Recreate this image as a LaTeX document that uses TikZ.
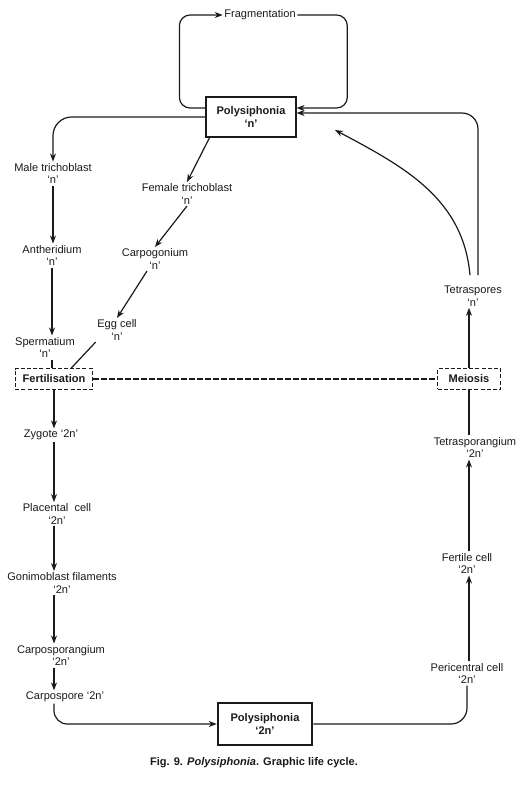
\documentclass[tikz,border=0pt]{standalone}
\usepackage{fontspec}
\setmainfont{Liberation Sans}
\usepackage{tikz}
\usetikzlibrary{arrows.meta,positioning,calc}
\definecolor{inkdark}{HTML}{1A1A1A}

\begin{document}
\begin{tikzpicture}[x=0.75pt, y=0.75pt,
  lbl/.style={align=center, inner sep=1pt, text=inkdark,
              font=\fontsize{8.3}{9.6}\selectfont},
  solidbox/.style={draw=inkdark, line width=1.4pt, align=center, text=inkdark,
              minimum width=67pt, minimum height=30pt,
              font=\fontsize{8.3}{9.6}\selectfont\bfseries},
  dashbox/.style={draw=inkdark, line width=1pt, dash pattern=on 3pt off 1.6pt,
              minimum height=15.5pt, text=inkdark,
              font=\fontsize{8.3}{9.6}\selectfont\bfseries},
  arr/.style={-{Stealth[length=6pt,width=4.5pt]}, line width=0.9pt, color=inkdark},
  ln/.style={line width=0.9pt, color=inkdark}]
\useasboundingbox (0,0) rectangle (521,-786);
% haploid plant and its sexual branch
\node[solidbox] (polyn) at (251,-117) {Polysiphonia\\`n'};
\node[lbl] (frag) at (260,-15) {Fragmentation};
\node[lbl] (male) at (53,-173.5) {Male trichoblast\\`n'};
\node[lbl] (anth) at (52,-255.5) {Antheridium\\`n'};
\node[lbl] (sperm) at (45,-347.5) {Spermatium\\`n'};
\node[lbl] (female) at (187,-194) {Female trichoblast\\`n'};
\node[lbl] (carpog) at (155,-259) {Carpogonium\\`n'};
\node[lbl] (egg) at (117,-330) {Egg cell\\`n'};
\node[dashbox, minimum width=58pt] (fert) at (54,-379) {Fertilisation};
% diploid carposporophyte
\node[lbl] (zyg) at (51,-435) {Zygote `2n'};
\node[lbl] (plac) at (57,-514) {Placental\ \ cell\\`2n'};
\node[lbl] (gon) at (62,-583) {Gonimoblast filaments\\`2n'};
\node[lbl] (csporang) at (61,-655.5) {Carposporangium\\`2n'};
\node[lbl] (cspore) at (65,-697) {Carpospore `2n'};
% diploid tetrasporophyte
\node[solidbox, minimum width=71pt, minimum height=31.5pt] (poly2) at (265,-724) {Polysiphonia\\`2n'};
\node[lbl] (peri) at (467,-673.5) {Pericentral cell\\`2n'};
\node[lbl] (fertile) at (467,-563.5) {Fertile cell\\`2n'};
\node[lbl] (tetrang) at (475,-447.5) {Tetrasporangium\\`2n'};
\node[dashbox, minimum width=47pt] (meio) at (469,-379) {Meiosis};
\node[lbl] (tetsp) at (473,-296) {Tetraspores\\`n'};
\coordinate (tip) at (335,-130);
\node[lbl, font=\fontsize{8.3}{9.6}\selectfont\bfseries] (cap) at (254,-763)
  {Fig. 9. \textit{Polysiphonia}. Graphic life cycle.};

% fragmentation loop
\draw[arr, rounded corners=8pt] ([yshift=6.75pt]polyn.west) -- ++(-26,0) |- (frag.west);
\draw[arr, rounded corners=8pt] (frag.east) -- ++(50,0) |- ([yshift=6.75pt]polyn.east);
% sexual branch
\draw[arr, rounded corners=14pt] (polyn.west) -| (male.north);
\draw[arr] (male.south) -- (male.south |- anth.north);
\draw[arr] (anth.south) -- (anth.south |- sperm.north);
\draw[ln] (anth.south |- sperm.south) -- (anth.south |- fert.north);
\draw[arr] ([xshift=3pt]polyn.south west) -- (female.north);
\draw[arr] (female.south) -- (carpog.north);
\draw[arr] ([xshift=-6pt]carpog.south) -- (egg.north);
\draw[ln] (egg.south west) -- ([xshift=13pt]fert.north);
\draw[ln, dash pattern=on 4pt off 2pt] (fert.east) -- (meio.west);
% carposporophyte
\draw[arr] (fert.south) -- (fert.south |- zyg.north);
\draw[arr] (zyg.south -| fert.south) -- (fert.south |- plac.north);
\draw[arr] (plac.south -| fert.south) -- (fert.south |- gon.north);
\draw[arr] (gon.south -| fert.south) -- (fert.south |- csporang.north);
\draw[arr] (csporang.south -| fert.south) -- (fert.south |- cspore.north);
\draw[arr, rounded corners=10pt] (cspore.south -| fert.south) |- (poly2.west);
% tetrasporophyte
\draw[ln, rounded corners=12pt] (poly2.east) -| (peri.south);
\draw[arr] (peri.north -| meio.south) -- (meio.south |- fertile.south);
\draw[arr] (fertile.north -| meio.south) -- (meio.south |- tetrang.south);
\draw[ln] (tetrang.north -| meio.south) -- (meio.south);
\draw[arr] (meio.north) -- (meio.north |- tetsp.south);
\draw[arr, rounded corners=12pt] ([shift={(5,9)}]tetsp.north) |- ([yshift=3pt]polyn.east);
\draw[arr] ([shift={(-3,9)}]tetsp.north) to[out=95,in=-28] (tip);
\end{tikzpicture}
\end{document}
